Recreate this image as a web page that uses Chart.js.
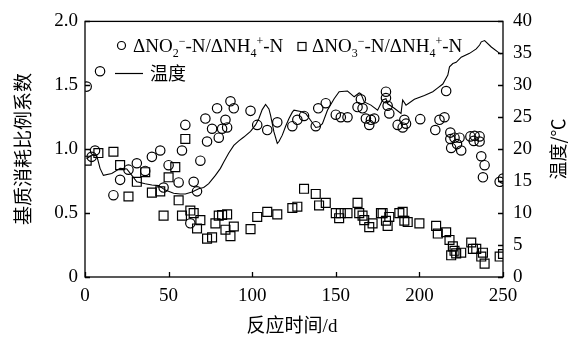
<!DOCTYPE html>
<html>
<head>
<meta charset="utf-8">
<script src="https://cdn.jsdelivr.net/npm/chart.js@4.4.0/dist/chart.umd.min.js"></script>
<style>
  html, body { margin: 0; padding: 0; background: #fff; }
  #c { display: block; }
</style>
</head>
<body>
<canvas id="c" width="568" height="338"></canvas>
<script>
// ΔNO2−-N/ΔNH4+-N consumption ratio (circles)
const no2Days = [1, 9, 4, 6, 17, 21, 26, 31, 36, 40, 45, 47, 50, 56, 58, 60, 63, 65, 67, 69,
  72, 73, 76, 79, 80, 82, 84, 85, 87, 89, 99, 103, 109, 115, 124, 127, 131, 138, 139.5, 144,
  150, 153, 157, 163, 165, 166, 168, 170, 171, 173, 180, 180, 181, 182, 187, 190, 191, 192,
  200.5, 209.5, 212, 215, 216, 218.5, 218.5, 221, 224, 222.5, 219, 225, 230.5, 233, 236,
  232.5, 236, 237, 239, 238, 248, 250];
const no2Ratio = [1.49, 1.61, 0.94, 0.99, 0.64, 0.76, 0.84, 0.89, 0.83, 0.94, 0.99, 0.70, 0.875, 0.74, 0.99, 1.19, 0.42, 0.745, 0.67, 0.91,
  1.24, 1.06, 1.16, 1.32, 1.09, 1.16, 1.23, 1.17, 1.375, 1.32, 1.30, 1.19, 1.15, 1.21, 1.18, 1.23, 1.26, 1.18, 1.32, 1.36,
  1.27, 1.25, 1.25, 1.33, 1.39, 1.32, 1.24, 1.19, 1.23, 1.24, 1.45, 1.40, 1.34, 1.28, 1.19, 1.17, 1.23, 1.20,
  1.235, 1.15, 1.23, 1.25, 1.455, 1.13, 1.08, 1.09, 1.09, 1.04, 1.01, 0.99, 1.10, 1.105, 1.10,
  1.065, 1.06, 0.945, 0.875, 0.78, 0.745, 0.77];

// ΔNO3−-N/ΔNH4+-N consumption ratio (squares)
const no3Days = [1, 8, 17, 21, 26, 31, 36, 40, 45, 47, 50, 54, 56, 58, 60, 63, 65, 67, 69, 73,
  76, 78, 80, 82, 84, 85, 87, 89, 99, 103, 109, 115, 124, 127, 131, 138, 140, 144, 150, 152,
  153, 157, 163, 164, 166, 167, 170, 172, 177, 178, 180, 181, 182, 188, 190, 191, 193, 200,
  210, 211, 216, 218, 220, 221, 219, 222, 225, 231, 232, 234, 238, 237, 239, 248, 250];
const no3Ratio = [0.91, 0.97, 0.98, 0.875, 0.63, 0.745, 0.82, 0.66, 0.67, 0.48, 0.78, 0.86, 0.60, 0.48, 1.08, 0.52, 0.50, 0.38, 0.445, 0.30,
  0.31, 0.42, 0.48, 0.485, 0.37, 0.49, 0.32, 0.395, 0.375, 0.47, 0.51, 0.49, 0.54, 0.55, 0.69, 0.65, 0.56, 0.58, 0.50, 0.46,
  0.50, 0.50, 0.58, 0.50, 0.48, 0.445, 0.39, 0.42, 0.50, 0.50, 0.44, 0.40, 0.47, 0.50, 0.51, 0.44, 0.43, 0.42,
  0.40, 0.34, 0.35, 0.29, 0.24, 0.205, 0.17, 0.185, 0.19, 0.27, 0.22, 0.22, 0.19, 0.16, 0.105, 0.16, 0.18];

// Reactor temperature (°C)
const tempDays = [1, 4, 7, 8, 9, 11, 16, 21, 25, 28, 31, 36, 40, 44, 48, 53, 57, 60, 64, 68,
  71, 74, 78, 81, 83, 86, 89, 92, 95, 99, 102, 104, 106, 108, 110, 111, 113, 115, 116, 118,
  120, 122, 124, 125, 129, 132, 135, 138, 140, 142, 145, 149, 152, 157, 161, 164, 165, 167,
  171, 175, 178, 180, 181, 185, 189, 190, 192, 197, 203, 208, 211, 214, 217, 218, 220, 222,
  225, 230, 234, 236, 237, 239, 243, 248, 249];
const tempC = [18.5, 19.1, 19.0, 18.0, 17.0, 15.9, 16.2, 17.0, 16.9, 15.9, 14.9, 14.6, 14.4, 14.3, 13.6, 13.1, 13.0, 13.0, 13.3, 13.8,
  14.0, 14.6, 15.9, 17.0, 18.0, 19.4, 20.6, 21.3, 21.9, 22.8, 23.8, 24.8, 26.2, 27.0, 26.3, 25.3, 22.7, 20.9, 21.2, 22.2,
  23.6, 24.8, 25.8, 26.1, 25.9, 25.6, 24.5, 23.4, 23.5, 24.0, 26.1, 27.9, 29.0, 29.1, 28.2, 28.8, 28.7, 27.4,
  26.9, 26.1, 27.7, 27.9, 27.1, 26.4, 25.6, 27.7, 26.9, 27.8, 28.4, 29.0, 29.6, 30.2, 31.6, 32.9, 33.4, 33.6,
  34.4, 35.0, 35.7, 36.3, 36.8, 37.0, 36.0, 35.0, 34.9];

const xTitle = '反应时间/d';
const yTitle = '基质消耗比例系数';
const y1Title = '温度/℃';

const SERIF = "'Liberation Serif', 'Times New Roman', serif";
const CJK = "'Noto Sans CJK SC', sans-serif";

Chart.defaults.font.family = SERIF;
Chart.defaults.font.size = 19;
Chart.defaults.color = '#000';
const tickFont = { family: SERIF, size: 19 };

const pts = (xs, ys) => xs.map((x, i) => ({ x, y: ys[i] }));

// rich text with sub/superscripts, drawn left to right
function drawRich(ctx, x, y, parts) {
  for (const [t, k] of parts) {
    const size = k === 'n' ? 19 : 12;
    ctx.font = size + 'px ' + SERIF;
    const dy = k === 'sub' ? 5 : (k === 'sup' ? -7 : 0);
    ctx.fillText(t, x, y + dy);
    x += ctx.measureText(t).width;
  }
  return x;
}

const decor = {
  id: 'decor',
  afterDraw(chart) {
    const ctx = chart.ctx;
    const { left, right, top, bottom } = chart.chartArea;
    const sx = chart.scales.x, sy = chart.scales.y, sy1 = chart.scales.y1;
    ctx.save();
    ctx.strokeStyle = '#000';
    ctx.lineWidth = 1.3;
    ctx.strokeRect(left, top, right - left, bottom - top);
    // inward tick marks
    ctx.beginPath();
    sx.ticks.forEach(t => { const p = Math.round(sx.getPixelForValue(t.value)) + 0.5; ctx.moveTo(p, bottom); ctx.lineTo(p, bottom - 5); });
    sy.ticks.forEach(t => { const p = Math.round(sy.getPixelForValue(t.value)) + 0.5; ctx.moveTo(left, p); ctx.lineTo(left + 5, p); });
    sy1.ticks.forEach(t => { const p = Math.round(sy1.getPixelForValue(t.value)) + 0.5; ctx.moveTo(right, p); ctx.lineTo(right - 5, p); });
    ctx.stroke();

    // axis titles
    ctx.fillStyle = '#000';
    ctx.textAlign = 'center';
    ctx.textBaseline = 'middle';
    ctx.font = '19px ' + SERIF + ', ' + CJK;
    ctx.fillText(xTitle, 292, 327);
    ctx.save();
    ctx.translate(23, 149);
    ctx.rotate(-Math.PI / 2);
    ctx.font = '19px ' + CJK;
    ctx.fillText(yTitle, 0, 0);
    ctx.restore();
    ctx.save();
    ctx.translate(558, 149);
    ctx.rotate(-Math.PI / 2);
    ctx.font = '18px ' + CJK;
    ctx.fillText(y1Title, 0, 0);
    ctx.restore();

    // legend
    ctx.textAlign = 'left';
    ctx.textBaseline = 'alphabetic';
    ctx.lineWidth = 1.2;
    ctx.beginPath();
    ctx.arc(121.5, 45.5, 4, 0, Math.PI * 2);
    ctx.stroke();
    drawRich(ctx, 133, 52, [['ΔNO', 'n'], ['2', 'sub'], ['−', 'sup'], ['-N/ΔNH', 'n'], ['4', 'sub'], ['+', 'sup'], ['-N', 'n']]);
    ctx.strokeRect(298, 42.5, 8, 8);
    drawRich(ctx, 312, 52, [['ΔNO', 'n'], ['3', 'sub'], ['−', 'sup'], ['-N/ΔNH', 'n'], ['4', 'sub'], ['+', 'sup'], ['-N', 'n']]);
    ctx.beginPath();
    ctx.moveTo(115, 73.5);
    ctx.lineTo(143, 73.5);
    ctx.stroke();
    ctx.textBaseline = 'middle';
    ctx.font = '18px ' + CJK;
    ctx.fillText('温度', 150, 73);
    ctx.restore();
  }
};

new Chart(document.getElementById('c'), {
  type: 'scatter',
  data: {
    datasets: [
      {
        type: 'line', label: '温度', data: pts(tempDays, tempC), yAxisID: 'y1',
        borderColor: '#000', borderWidth: 1.1, pointRadius: 0, tension: 0, fill: false
      },
      {
        label: 'ΔNO2−-N/ΔNH4+-N', data: pts(no2Days, no2Ratio), yAxisID: 'y',
        pointStyle: 'circle', pointRadius: 4.7, borderColor: '#000', borderWidth: 1.2,
        backgroundColor: 'rgba(0,0,0,0)'
      },
      {
        label: 'ΔNO3−-N/ΔNH4+-N', data: pts(no3Days, no3Ratio), yAxisID: 'y',
        pointStyle: 'rect', pointRadius: 6.3, borderColor: '#000', borderWidth: 1.2,
        backgroundColor: 'rgba(0,0,0,0)'
      }
    ]
  },
  options: {
    responsive: false,
    animation: false,
    events: [],
    layout: { padding: { top: 21, left: 0, right: 0, bottom: 0 } },
    plugins: { legend: { display: false }, tooltip: { enabled: false } },
    scales: {
      x: {
        type: 'linear', position: 'bottom', min: 0, max: 250,
        grid: { display: false, drawTicks: false }, border: { display: false },
        ticks: { stepSize: 50, font: tickFont, color: '#000', padding: 8, maxRotation: 0 },
        afterFit(s) { s.height = 61; }
      },
      y: {
        position: 'left', min: 0, max: 2,
        grid: { display: false, drawTicks: false }, border: { display: false },
        ticks: { stepSize: 0.5, font: tickFont, color: '#000', padding: 7,
          callback: v => (v === 0 ? '0' : v.toFixed(1)) },
        afterFit(s) { s.width = 85; }
      },
      y1: {
        position: 'right', min: 0, max: 40,
        grid: { display: false, drawTicks: false }, border: { display: false },
        ticks: { stepSize: 5, font: tickFont, color: '#000', padding: 10 },
        afterFit(s) { s.width = 65; }
      }
    }
  },
  plugins: [decor]
});
</script>
</body>
</html>
